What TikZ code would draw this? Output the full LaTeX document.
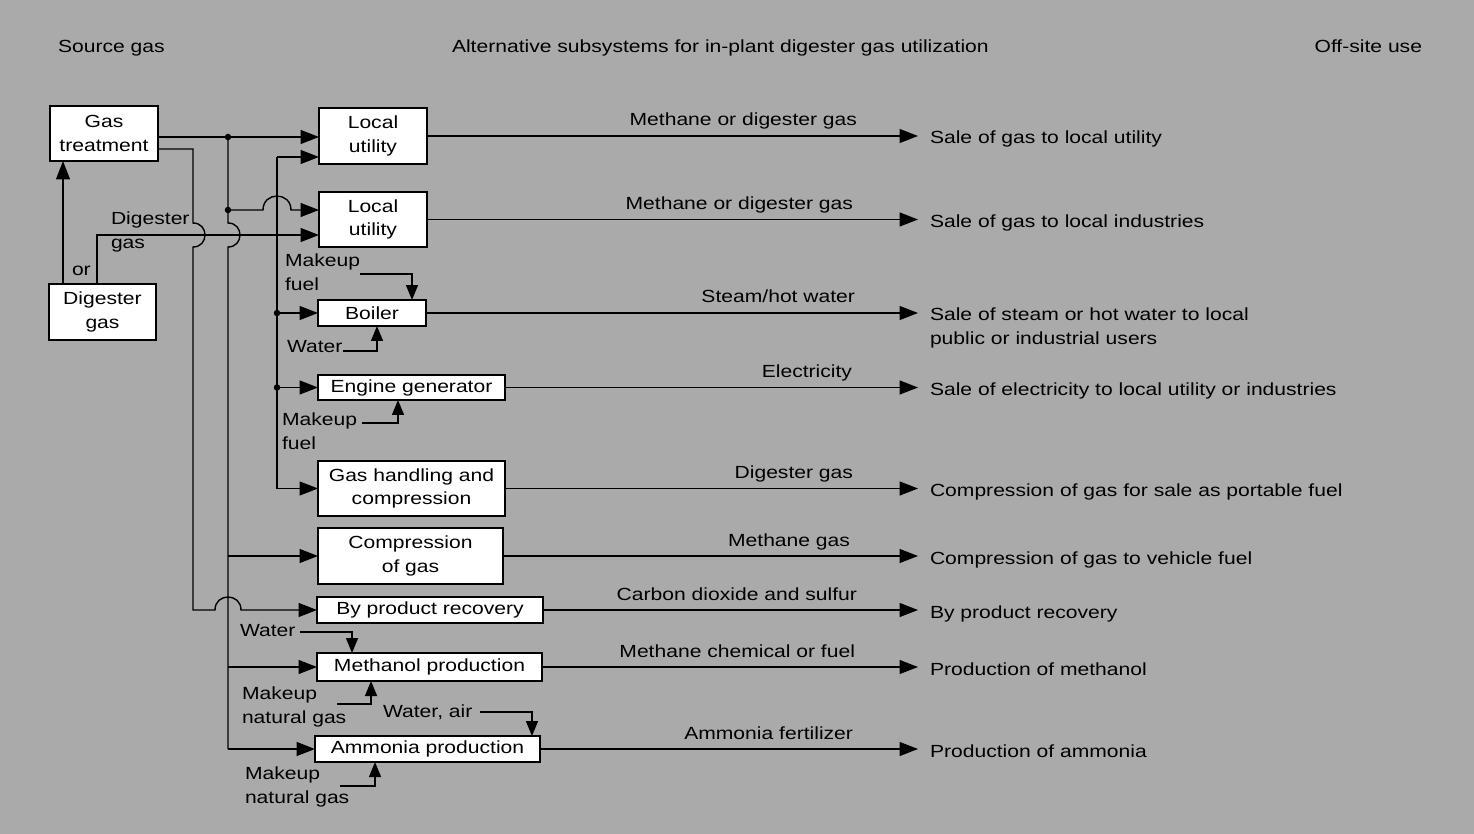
\documentclass[tikz,border=0pt]{standalone}
\usepackage{fontspec}
\setmainfont{Liberation Sans}[FakeStretch=1.2]
\usetikzlibrary{arrows.meta}
\definecolor{bggray}{RGB}{170,170,170}
\begin{document}
\begin{tikzpicture}[x=0.02cm,y=-0.02cm,
  every node/.style={font=\fontsize{10}{13.3}\selectfont, inner sep=0pt, outer sep=0pt},
  bx/.style n args={2}{draw, fill=white, line width=1.2pt, minimum width=#1*0.02cm, minimum height=#2*0.02cm, align=center},
  ln/.style={line width=0.8pt},
  arr/.style={ln, -{Triangle[length=0.37cm,width=0.28cm]}},
  sarr/.style={ln, -{Triangle[length=0.3cm,width=0.24cm]}},
  lbl/.style={align=left, anchor=north west},
  flowtxt/.style={anchor=base east},
  outtxt/.style={anchor=base west, align=left},
  hd/.style={anchor=base west},
  dot/.style={circle, fill=black, minimum size=0.13cm}
]
\useasboundingbox (0,0) rectangle (1474,834);
\fill[bggray] (0,0) rectangle (1474,834);

% headers
\node[hd] (h1) at (58,53) {Source gas};
\node[hd] (h2) at (452,53) {Alternative subsystems for in-plant digester gas utilization};
\node[anchor=base east] (h3) at (1422,53) {Off-site use};

% boxes
\node[bx={108}{55}] (gt) at (104,133.5) {Gas\\treatment};
\node[bx={107}{56}] (dg) at (102.5,312) {Digester\\gas};
\node[bx={108}{56}] (lu1) at (373,136) {Local\\utility};
\node[bx={108}{55}] (lu2) at (373,219.5) {Local\\utility};
\node[bx={108}{26}] (boil) at (372,313) {Boiler};
\node[bx={187}{25}] (eng) at (411.5,387.5) {Engine generator};
\node[bx={187}{55}] (gh) at (411.5,488.5) {Gas handling and\\compression};
\node[bx={185}{56}] (cg) at (410.5,556) {Compression\\of gas};
\node[bx={226}{26}] (bp) at (430,610) {By product recovery};
\node[bx={225}{28}] (mp) at (429.5,667) {Methanol production};
\node[bx={225}{26}] (ap) at (427.5,749) {Ammonia production};

% coordinates
\coordinate (j1) at (228,137);
\coordinate (j2) at (228,210);
\coordinate (j3) at (228,556);
\coordinate (j4) at (228,667);
\coordinate (j5) at (228,749);
\coordinate (k1) at (193,149);
\coordinate (k2) at (193,610);
\coordinate (a1) at (63,284);
\coordinate (a2) at (97,284);
\coordinate (a3) at (97,235);
\coordinate (b1) at (277,157);
\coordinate (b2) at (277,313);
\coordinate (b3) at (277,387.5);
\coordinate (b4) at (277,488.5);
\coordinate (tx) at (918,0);

% source connections
\draw[arr] (a1) -- (a1 |- gt.south);
\draw[arr] (a2) -- (a3) -- (lu2.west |- a3);
\draw[arr] (gt.east |- j1) -- (lu1.west |- j1);
\draw[ln] (j1) -- (228,223) .. controls (244,223) and (244,247) .. (228,247) -- (j5);
\draw[arr] (j5) -- (ap.west);
\draw[arr] (j2) -- (263,210) .. controls (263,191.4) and (291,191.4) .. (291,210) -- (lu2.west |- j2);
\draw[arr] (j3) -- (cg.west);
\draw[arr] (j4) -- (mp.west);
\draw[arr] (gt.east |- k1) -- (k1) -- (193,223) .. controls (209,223) and (209,247) .. (193,247) -- (k2) -- (215,610) .. controls (215,592.7) and (241,592.7) .. (241,610) -- (bp.west);
\draw[ln] (b1) -- (b4);
\draw[arr] (b1) -- (lu1.west |- b1);
\draw[arr] (b2) -- (boil.west);
\draw[arr] (b3) -- (eng.west);
\draw[arr] (b4) -- (gh.west);
\node[dot] (d1) at (j1) {};
\node[dot] (d2) at (j2) {};
\node[dot] (d3) at (b2) {};
\node[dot] (d4) at (b3) {};

% side labels
\node[lbl] (dgl) at (111,212) {Digester\\gas};
\node[anchor=base west] (orl) at (72,276) {or};
\node[lbl] (mf1) at (285,254) {Makeup\\fuel};
\node[lbl] (wb) at (287,340) {Water};
\node[lbl] (mf2) at (282,413) {Makeup\\fuel};
\node[lbl] (wm) at (240,624) {Water};
\node[lbl] (mng1) at (242,687) {Makeup\\natural gas};
\node[lbl] (wa) at (383,705) {Water, air};
\node[lbl] (mng2) at (245,767) {Makeup\\natural gas};

% small inputs
\coordinate (s1) at (360,274); \draw[sarr] (s1) -| ([xshift=0.8cm]boil.north);
\coordinate (s2) at (343,351); \draw[sarr] (s2) -| ([xshift=0.1cm]boil.south);
\coordinate (s3) at (362,423); \draw[sarr] (s3) -| ([xshift=-0.27cm]eng.south);
\coordinate (s4) at (300,632); \draw[sarr] (s4) -| ([xshift=-1.55cm]mp.north);
\coordinate (s5) at (337,704); \draw[sarr] (s5) -| ([xshift=-1.17cm]mp.south);
\coordinate (s6) at (480,712); \draw[sarr] (s6) -| ([xshift=2.09cm]ap.north);
\coordinate (s7) at (340,786); \draw[sarr] (s7) -| ([xshift=-1.05cm]ap.south);

% outputs
\draw[arr] (lu1.east) -- (lu1.east -| tx);
\node[flowtxt] (f1) at (857,126) {Methane or digester gas};
\node[outtxt] (o1) at (930,144) {Sale of gas to local utility};

\draw[arr] (lu2.east) -- (lu2.east -| tx);
\node[flowtxt] (f2) at (853,209.5) {Methane or digester gas};
\node[outtxt] (o2) at (930,227.5) {Sale of gas to local industries};

\draw[arr] (boil.east) -- (boil.east -| tx);
\node[flowtxt] (f3) at (855,303) {Steam/hot water};
\node[lbl] (o3) at (930,308) {Sale of steam or hot water to local\\public or industrial users};

\draw[arr] (eng.east) -- (eng.east -| tx);
\node[flowtxt] (f4) at (852,377.5) {Electricity};
\node[outtxt] (o4) at (930,395.5) {Sale of electricity to local utility or industries};

\draw[arr] (gh.east) -- (gh.east -| tx);
\node[flowtxt] (f5) at (853,478.5) {Digester gas};
\node[outtxt] (o5) at (930,496.5) {Compression of gas for sale as portable fuel};

\draw[arr] (cg.east) -- (cg.east -| tx);
\node[flowtxt] (f6) at (850,546) {Methane gas};
\node[outtxt] (o6) at (930,564) {Compression of gas to vehicle fuel};

\draw[arr] (bp.east) -- (bp.east -| tx);
\node[flowtxt] (f7) at (857,600) {Carbon dioxide and sulfur};
\node[outtxt] (o7) at (930,618) {By product recovery};

\draw[arr] (mp.east) -- (mp.east -| tx);
\node[flowtxt] (f8) at (855,657) {Methane chemical or fuel};
\node[outtxt] (o8) at (930,675) {Production of methanol};

\draw[arr] (ap.east) -- (ap.east -| tx);
\node[flowtxt] (f9) at (853,739) {Ammonia fertilizer};
\node[outtxt] (o9) at (930,757) {Production of ammonia};
\end{tikzpicture}
\end{document}
